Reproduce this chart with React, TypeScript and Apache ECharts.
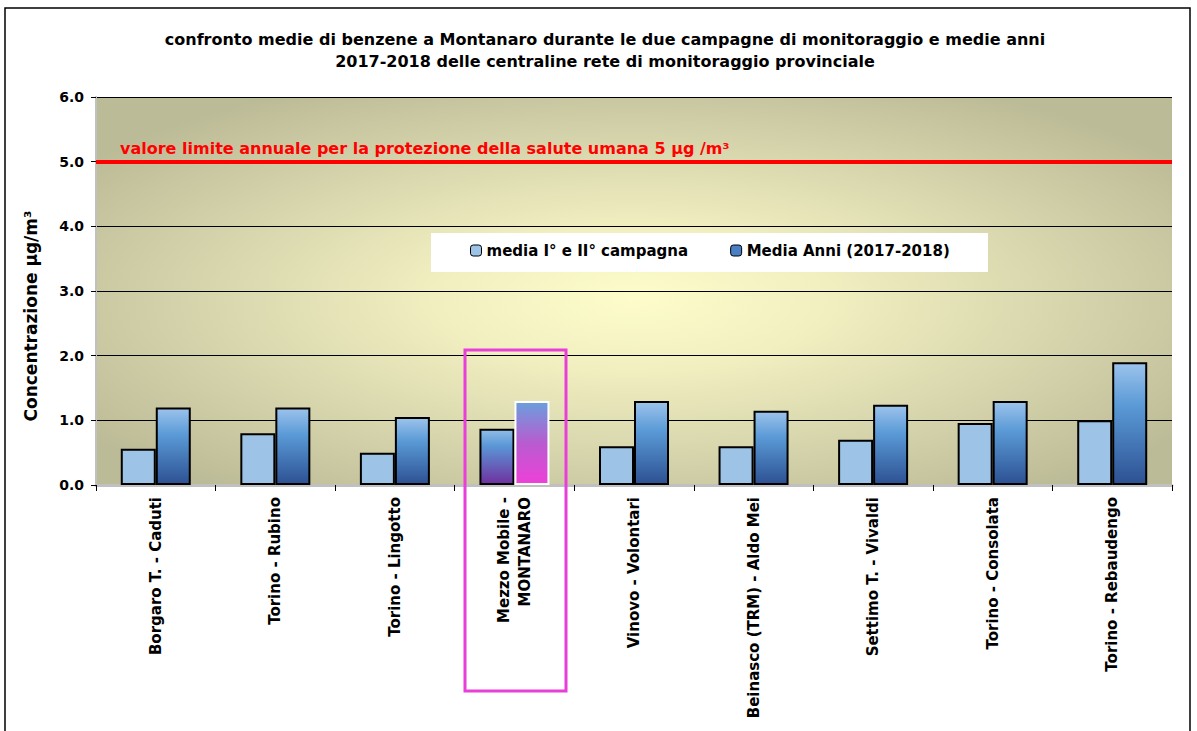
import React, { useEffect, useRef } from "react";
import * as echarts from "echarts";

const categories = [
  "Borgaro T. - Caduti",
  "Torino - Rubino",
  "Torino - Lingotto",
  "Mezzo Mobile -\nMONTANARO",
  "Vinovo - Volontari",
  "Beinasco (TRM) - Aldo Mei",
  "Settimo T. - Vivaldi",
  "Torino - Consolata",
  "Torino - Rebaudengo",
];
const campagna = [0.56, 0.8, 0.5, 0.87, 0.6, 0.6, 0.7, 0.96, 1.0];
const mediaAnni = [1.2, 1.2, 1.05, 1.3, 1.3, 1.15, 1.24, 1.3, 1.9];
const yTicks = [0, 1, 2, 3, 4, 5, 6];
const limitValue = 5;
const highlightIndex = 3;

const titleText =
  "confronto medie di benzene a Montanaro durante le due campagne di monitoraggio e medie anni\n2017-2018 delle centraline rete di monitoraggio provinciale";
const limitText = "valore limite annuale per la protezione della salute umana 5 \u00b5g /m\u00b3";
const yName = "Concentrazione \u00b5g/m\u00b3";
const FONT = "DejaVu Sans, Arial, sans-serif";

export default function App() {
  const ref = useRef<HTMLDivElement>(null);
  useEffect(() => {
    const chart = echarts.init(ref.current!, null, { renderer: "svg" });
    const darkGrad = new echarts.graphic.LinearGradient(0, 0, 0, 1, [
      { offset: 0, color: "#9cc3ec" },
      { offset: 0.35, color: "#5a9ad6" },
      { offset: 1, color: "#2d5193" },
    ]);
    const montLight = new echarts.graphic.LinearGradient(0, 0, 0, 1, [
      { offset: 0, color: "#8fbde8" },
      { offset: 0.3, color: "#5a96d6" },
      { offset: 1, color: "#7030a0" },
    ]);
    const montDark = new echarts.graphic.LinearGradient(0, 0, 0, 1, [
      { offset: 0, color: "#6a9fdc" },
      { offset: 0.5, color: "#b85cd0" },
      { offset: 1, color: "#ee40d8" },
    ]);
    const option: any = {
      animation: false,
      textStyle: { fontFamily: FONT },
      title: {
        text: titleText,
        left: 600,
        textAlign: "center",
        top: 23,
        textStyle: { fontSize: 16, fontWeight: "bold", color: "#000", lineHeight: 22, fontFamily: FONT },
      },
      grid: {
        left: 96,
        right: 25,
        top: 97,
        bottom: 246,
        show: true,
        borderWidth: 0,
        backgroundColor: new echarts.graphic.RadialGradient(0.5, 0.52, 0.62, [
          { offset: 0, color: "#fdfcca" },
          { offset: 0.3, color: "#f1efc0" },
          { offset: 0.7, color: "#d2d1a9" },
          { offset: 1, color: "#bcbb97" },
        ]),
      },
      legend: {
        show: true,
        left: 470,
        top: 243,
        padding: 0,
        itemWidth: 11,
        itemHeight: 11,
        itemGap: 42,
        textStyle: { fontSize: 15, fontWeight: "bold", color: "#000", fontFamily: FONT },
        data: [
          { name: "media I\u00b0 e II\u00b0 campagna", itemStyle: { color: "#9dc3e6", borderColor: "#000", borderWidth: 1 } },
          { name: "Media Anni (2017-2018)", itemStyle: { color: "#4a7fc4", borderColor: "#000", borderWidth: 1 } },
        ],
      },
      xAxis: {
        type: "category",
        data: categories,
        axisLine: { show: true, lineStyle: { color: "#c0c0c0", width: 3 } },
        axisTick: { show: true, length: 6, lineStyle: { color: "#000", width: 1 } },
        axisLabel: {
          rotate: 90,
          interval: 0,
          fontSize: 15,
          fontWeight: "bold",
          color: "#000",
          margin: 12,
          lineHeight: 21,
          fontFamily: FONT,
        },
      },
      yAxis: {
        type: "value",
        min: yTicks[0],
        max: yTicks[yTicks.length - 1],
        interval: 1,
        axisLine: { show: true, lineStyle: { color: "#c0c0c0", width: 2 } },
        axisTick: { show: true, length: 5, lineStyle: { color: "#000" } },
        axisLabel: {
          formatter: (v: number) => v.toFixed(1),
          fontSize: 14,
          fontWeight: "bold",
          color: "#000",
          margin: 12,
          fontFamily: FONT,
        },
        splitLine: {
          show: true,
          lineStyle: { color: "#000", width: 1 },
        },
      },
      series: [
        {
          name: "media I\u00b0 e II\u00b0 campagna",
          type: "bar",
          barWidth: 35,
          barGap: "0%",
          data: campagna.map((v, i) =>
            i === highlightIndex
              ? { value: v, itemStyle: { color: montLight, borderColor: "#000", borderWidth: 2 } }
              : v
          ),
          itemStyle: { color: "#9dc3e6", borderColor: "#000", borderWidth: 2 },
          markLine: {
            symbol: "none",
            silent: true,
            lineStyle: { color: "#ff0000", width: 4, type: "solid" },
            label: {
              show: true,
              position: "insideStartTop",
              formatter: limitText,
              color: "#ff0000",
              fontSize: 16,
              fontWeight: "bold",
              distance: [24, 5],
              fontFamily: FONT,
            },
            data: [{ yAxis: limitValue }],
          },
        },
        {
          name: "Media Anni (2017-2018)",
          type: "bar",
          barWidth: 35,
          barGap: "0%",
          data: mediaAnni.map((v, i) =>
            i === highlightIndex
              ? { value: v, itemStyle: { color: montDark, borderColor: "#ffffff", borderWidth: 2 } }
              : v
          ),
          itemStyle: { color: darkGrad, borderColor: "#000", borderWidth: 2 },
        },
      ],
      graphic: [
        {
          type: "rect",
          shape: { x: 431, y: 233, width: 557, height: 39 },
          style: { fill: "#ffffff" },
          silent: true,
          z: 1,
        },
        {
          type: "text",
          x: 31,
          y: 316,
          rotation: Math.PI / 2,
          style: {
            text: yName,
            fontSize: 17,
            fontWeight: "bold",
            fill: "#000",
            fontFamily: FONT,
            align: "center",
            verticalAlign: "middle",
          },
          silent: true,
        },
        {
          type: "rect",
          shape: { x: 5, y: 8, width: 1185, height: 740 },
          style: { fill: "none", stroke: "#000", lineWidth: 1.5 },
          silent: true,
          z: 100,
        },
        {
          type: "rect",
          shape: { x: 465, y: 350, width: 101, height: 341 },
          style: { fill: "none", stroke: "#e83fd8", lineWidth: 3 },
          silent: true,
          z: 100,
        },
      ],
    };
    chart.setOption(option);
    return () => chart.dispose();
  }, []);
  return (
    <div
      ref={ref}
      style={{ position: "absolute", left: 0, top: 0, width: 1197, height: 731, background: "#fff" }}
    />
  );
}
